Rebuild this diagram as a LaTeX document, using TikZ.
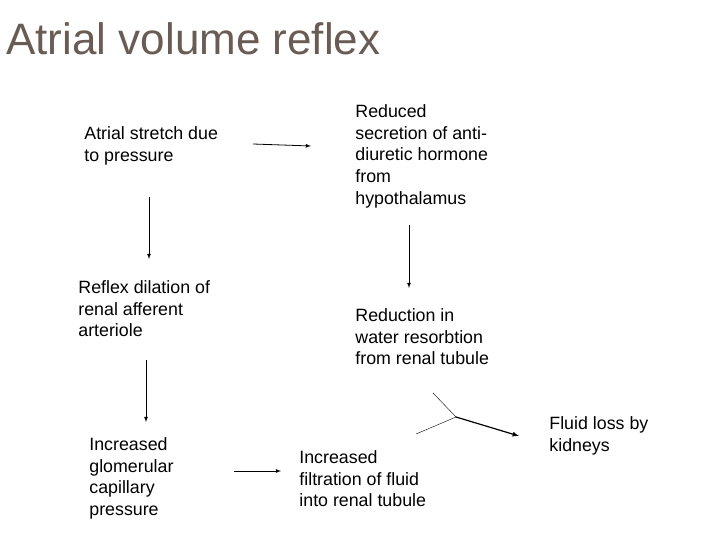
\documentclass[tikz,border=0pt]{standalone}
\usepackage{fontspec}
\setmainfont{Liberation Sans}
\usetikzlibrary{positioning}
\definecolor{titlegray}{RGB}{105,92,84}

\begin{document}
\begin{tikzpicture}[x=1pt, y=-1pt, -latex, thick,
            box/.style ={anchor=north west, align=left, inner sep=0pt,
            font=\fontsize{17.8}{21.8}\selectfont}]
        \useasboundingbox (0,0) rectangle (720,540);

        %\node [estilo] (nombre) at (posicion) {};
        \node[anchor=base west, inner sep=0pt, text=titlegray,
              font=\fontsize{44}{46}\selectfont] (T) at (6,55) {Atrial volume reflex};

        \node[box] (S) at (84,126) {Atrial stretch due\\to pressure};
        \node[box] (R) at (355,104) {Reduced\\secretion of anti-\\diuretic hormone\\from\\hypothalamus};
        \node[box] (D) at (78,280) {Reflex dilation of\\renal afferent\\arteriole};
        \node[box] (W) at (355,308) {Reduction in\\water resorbtion\\from renal tubule};
        \node[box] (G) at (89,437) {Increased\\glomerular\\capillary\\pressure};
        \node[box] (F) at (299,450) {Increased\\filtration of fluid\\into renal tubule};
        \node[box] (L) at (549,416) {Fluid loss by\\kidneys};

        %%--------------------------caminos----------------
        \coordinate (a1) at (253,144); \coordinate (a2) at (311,146);
        \coordinate (b1) at (149,197); \coordinate (b2) at (149,259);
        \coordinate (c1) at (409,225); \coordinate (c2) at (409,288);
        \coordinate (d1) at (146,360); \coordinate (d2) at (146,422);
        \coordinate (e1) at (234,471); \coordinate (e2) at (281,471);
        \coordinate (y1) at (433,393); \coordinate (y2) at (416,434);
        \coordinate (J) at (456,417); \coordinate (y3) at (519,436);

        \path (a1) edge (a2);
        \path (b1) edge (b2);
        \path (c1) edge (c2);
        \path (d1) edge (d2);
        \path (e1) edge (e2);
        \draw[-, thin] (y1) -- (J) -- (y2);
        \draw[very thick] (J) -- (y3);
\end{tikzpicture}
\end{document}
